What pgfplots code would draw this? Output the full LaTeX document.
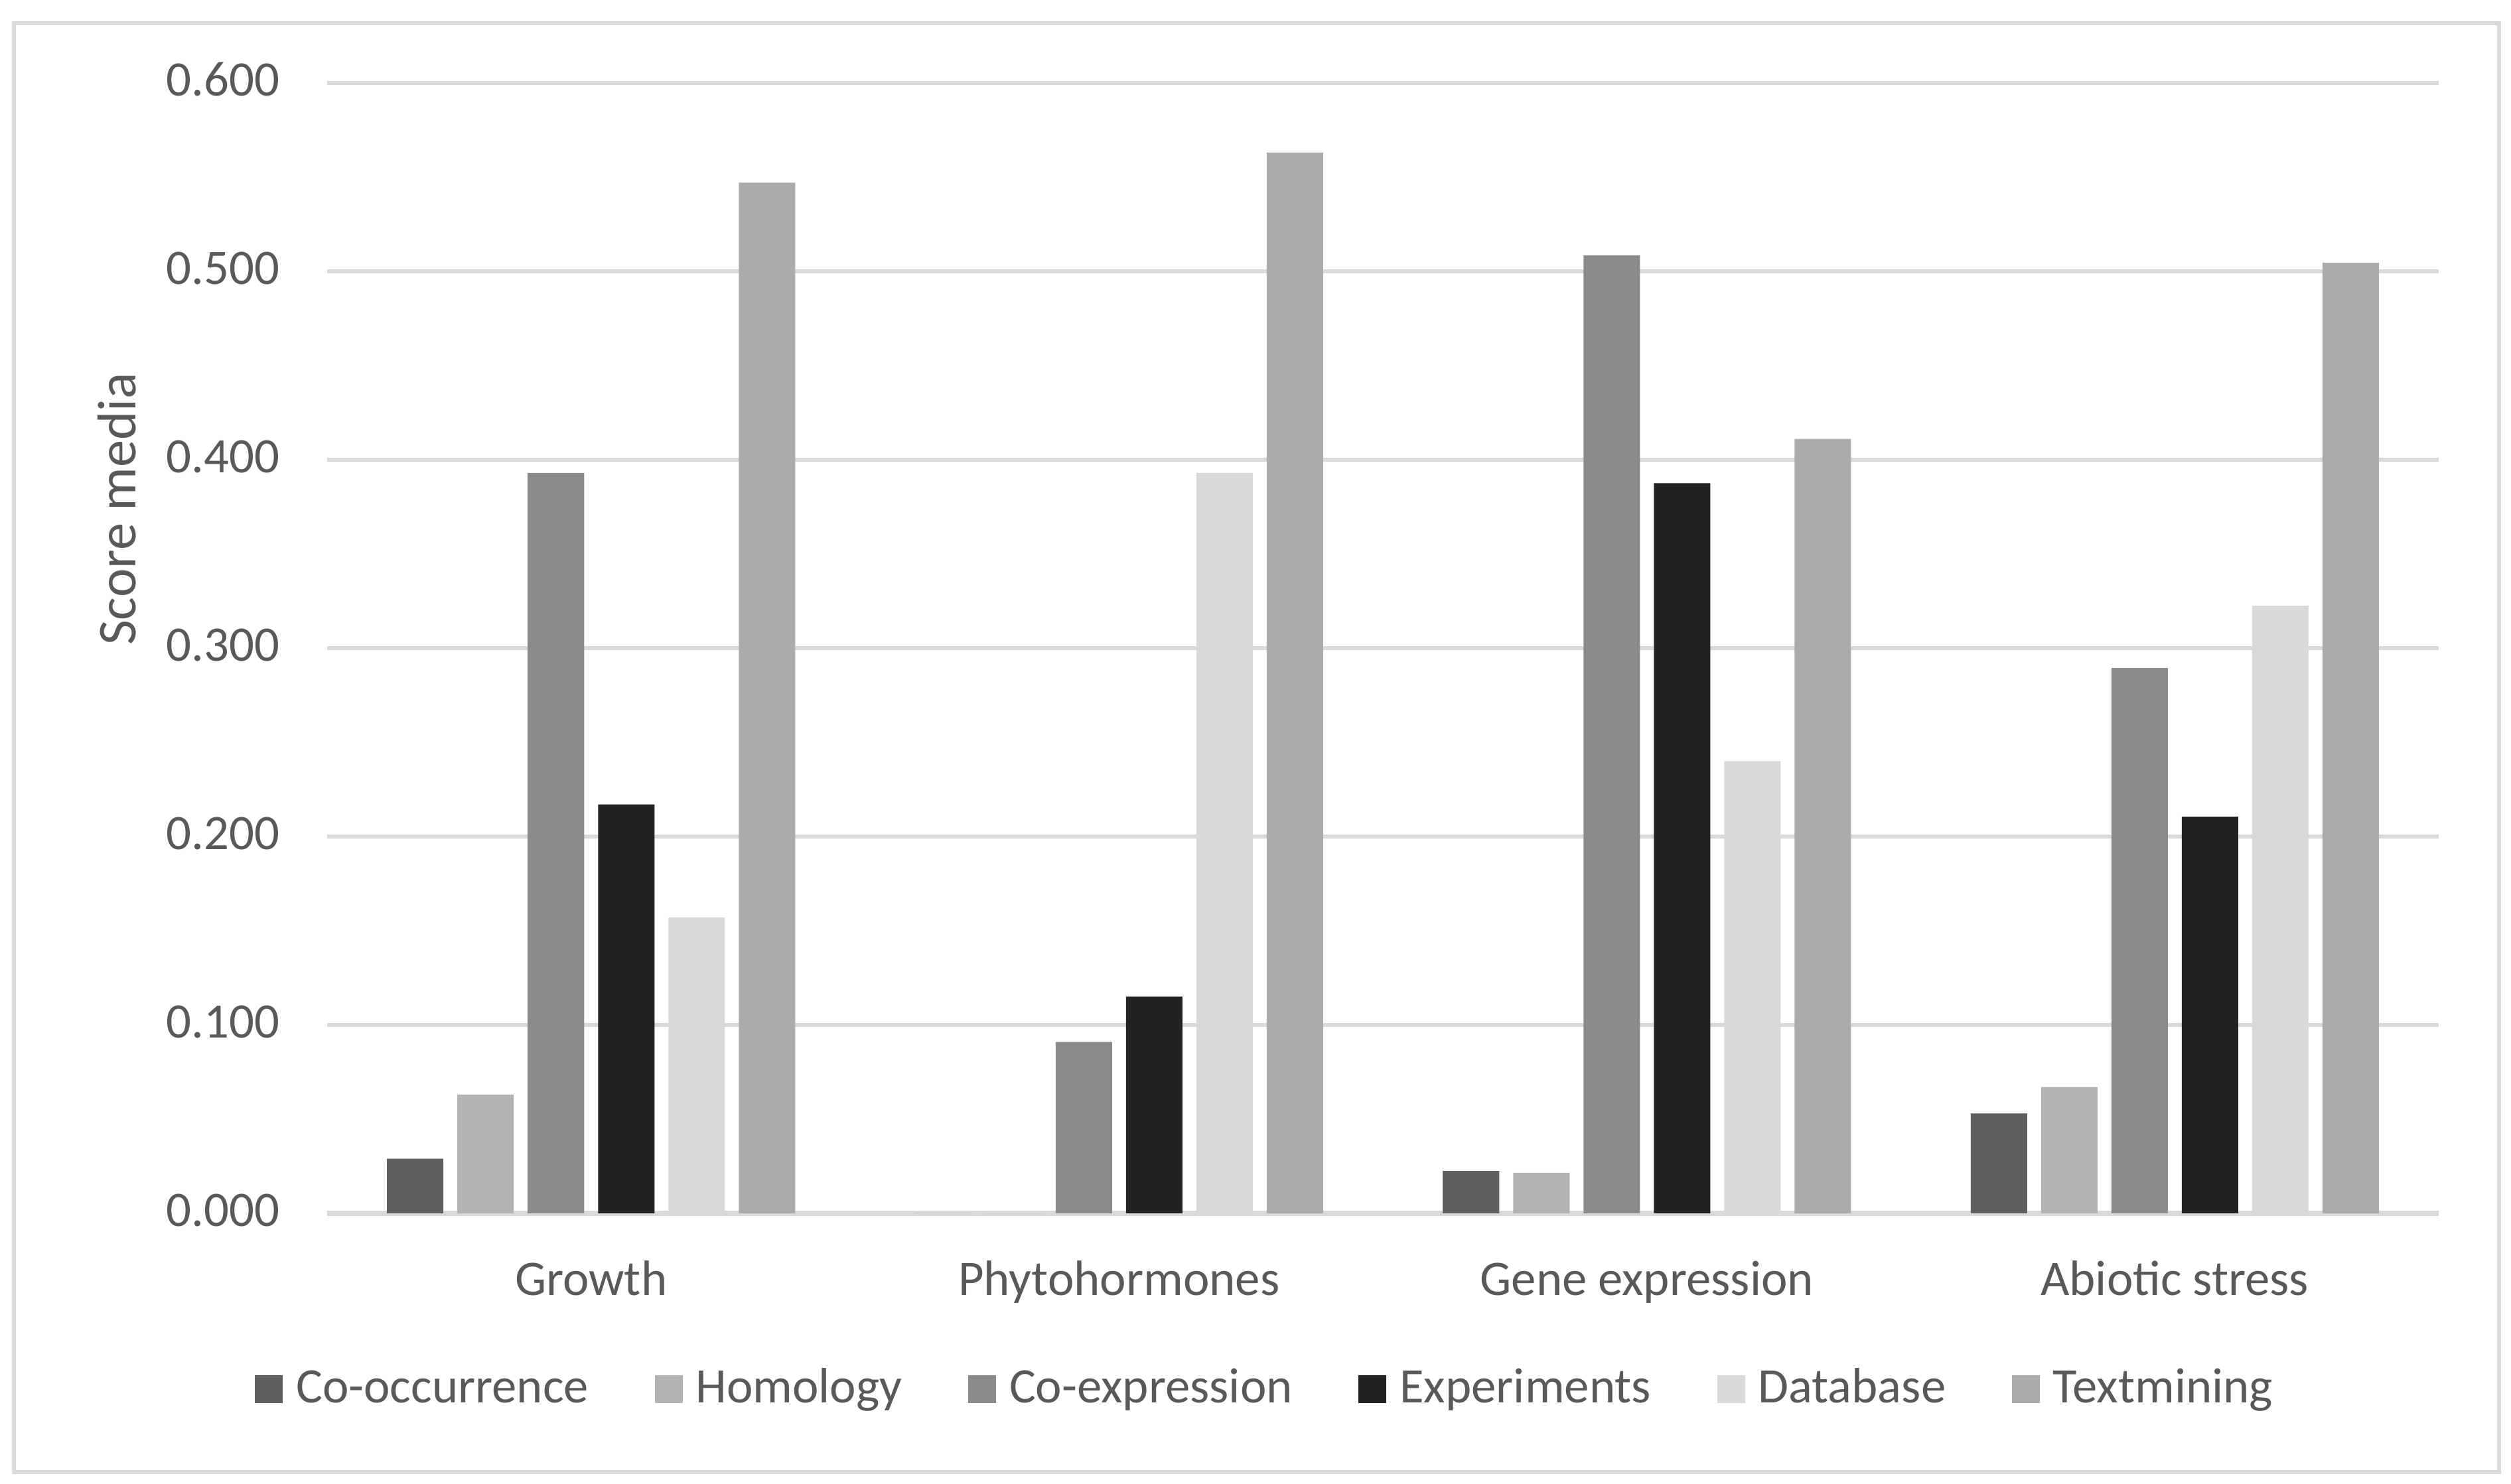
\documentclass[border=0pt]{standalone}
\usepackage{fontspec}
\setmainfont{Carlito}
\usepackage{pgfplots}
\usepackage{pgfplotstable}
\pgfplotsset{compat=1.18}
\definecolor{c1}{HTML}{5F5F5F}
\definecolor{c2}{HTML}{B3B3B3}
\definecolor{c3}{HTML}{8A8A8A}
\definecolor{c4}{HTML}{222222}
\definecolor{c5}{HTML}{D9D9D9}
\definecolor{c6}{HTML}{ABABAB}
\definecolor{gridc}{HTML}{D9D9D9}
\definecolor{textc}{HTML}{595959}
\pgfplotstableread{
x co ho ce ex db tm
0 0.029 0.063 0.393 0.217 0.157 0.547
1 0 0 0.091 0.115 0.393 0.563
2 0.0225 0.0215 0.5085 0.3875 0.240 0.411
3 0.053 0.067 0.2895 0.2105 0.3225 0.5045
}\datatable
\pgfplotsset{sqlegend/.style={legend image code/.code={\path[##1,draw=none] (0bp,-2.6bp) rectangle (5.25bp,2.6bp);}}}
\begin{document}
\begin{tikzpicture}
\useasboundingbox (0,0) rectangle (473bp,279.625bp);
\draw[gridc, line width=0.75bp] (2.6bp,2.25bp) rectangle (470.75bp,275.2bp);
\begin{axis}[
  at={(61.625bp,51bp)}, anchor=south west,
  scale only axis, width=397.75bp, height=213bp,
  xmin=-0.5, xmax=3.5, ymin=0, ymax=0.6,
  ybar=2.625bp, bar width=10.625bp,
  axis line style={draw=none},
  major tick length=0pt, tick style={draw=none},
  xtick={0,1,2,3},
  xticklabels={Growth,Phytohormones,Gene expression,Abiotic stress},
  ytick={0,0.1,0.2,0.3,0.4,0.5,0.6},
  yticklabels={0.000,0.100,0.200,0.300,0.400,0.500,0.600},
  ymajorgrids, grid style={gridc, line width=0.65bp},
  extra y ticks={0}, extra y tick labels={},
  extra y tick style={grid style={gridc, line width=0.9bp}},
  tick label style={font=\fontsize{9.35bp}{11bp}\selectfont, text=textc, inner sep=0pt, text height=6bp, text depth=0pt},
  xticklabel style={anchor=north, yshift=-9.2bp},
  yticklabel style={anchor=east, xshift=-8.8bp, yshift=0.5bp},
  ylabel={Score media},
  ylabel style={at={(axis description cs:-0.0908,0.623)}, anchor=base, font=\fontsize{10.3bp}{12bp}\selectfont, text=textc, inner sep=0pt},
  legend columns=6,
  legend style={at={(axis description cs:-0.0342,-0.1554)}, anchor=west, draw=none, fill=none, inner sep=0pt, outer sep=0pt,
    column sep=2.5bp, /tikz/every even column/.append style={column sep=12.45bp},
    font=\fontsize{9.35bp}{11bp}\selectfont, text=textc,
    nodes={inner sep=0pt, text height=5.2bp, text depth=0pt}},
]
\addplot[fill=c1, draw=none, sqlegend] table[x=x, y=co] {\datatable};
\addplot[fill=c2, draw=none, sqlegend] table[x=x, y=ho] {\datatable};
\addplot[fill=c3, draw=none, sqlegend] table[x=x, y=ce] {\datatable};
\addplot[fill=c4, draw=none, sqlegend] table[x=x, y=ex] {\datatable};
\addplot[fill=c5, draw=none, sqlegend] table[x=x, y=db] {\datatable};
\addplot[fill=c6, draw=none, sqlegend] table[x=x, y=tm] {\datatable};
\legend{Co-occurrence,Homology,Co-expression,Experiments,Database,Textmining}
\end{axis}
\end{tikzpicture}
\end{document}
